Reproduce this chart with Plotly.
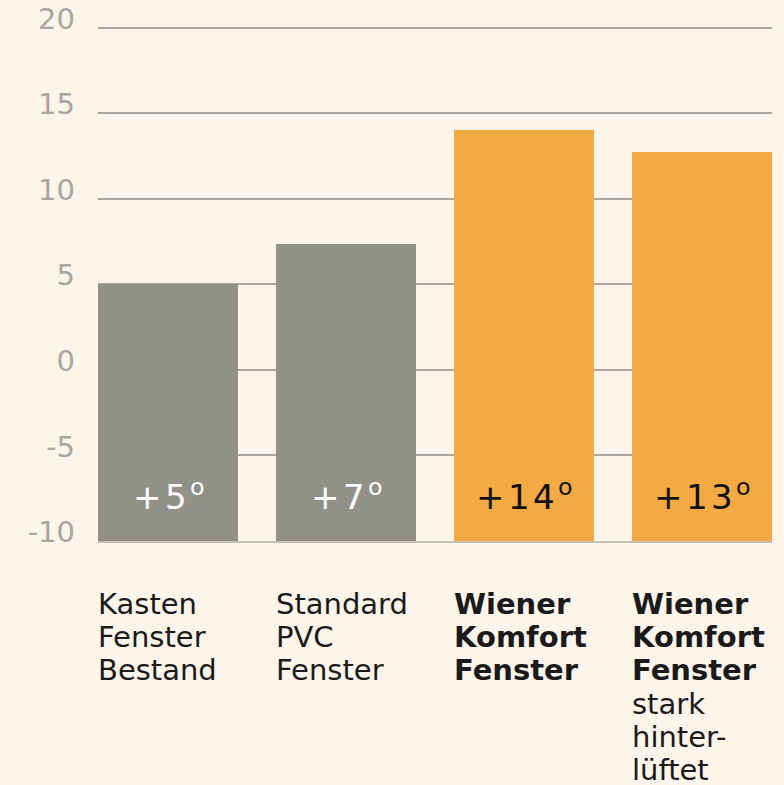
import plotly.graph_objects as go

categories = ["Kasten Fenster Bestand", "Standard PVC Fenster",
              "Wiener Komfort Fenster", "Wiener Komfort Fenster stark hinterlüftet"]
values = [5.0, 7.33, 14.0, 12.75]
bar_labels = ["+\u200a5\u200a<sup>o</sup>", "+\u200a7\u200a<sup>o</sup>",
              "+\u200a1\u200a4\u200a<sup>o</sup>", "+\u200a1\u200a3\u200a<sup>o</sup>"]
cat_lines = [
    ["Kasten", "Fenster", "Bestand"],
    ["Standard", "PVC", "Fenster"],
    ["<b>Wiener</b>", "<b>Komfort</b>", "<b>Fenster</b>"],
    ["<b>Wiener</b>", "<b>Komfort</b>", "<b>Fenster</b>", "stark", "hinter-", "lüftet"],
]
colors = ["#929187", "#929187", "#f4aa43", "#f4aa43"]
label_colors = ["#ffffff", "#ffffff", "#111111", "#111111"]
y_ticks = [-10, -5, 0, 5, 10, 15, 20]
y_ticktext = ["-10", "-5", "0", "5", "10", "15", "20"]

BASE = -10
LABEL_Y = -7.3
BAR_W = 0.79
BG = "#fdf4ea"
FONT = "DejaVu Sans"
LINE_H = 33.2
FIRST_LINE = -63

x = list(range(len(categories)))

fig = go.Figure()
fig.add_trace(go.Bar(
    x=x, y=[v - BASE for v in values], base=BASE,
    width=BAR_W, marker=dict(color=colors, line=dict(width=0)),
    hoverinfo="skip", showlegend=False,
))

for i in x:
    fig.add_annotation(x=i, y=LABEL_Y, xref="x", yref="y", text=bar_labels[i],
                       showarrow=False, yanchor="middle",
                       font=dict(family=FONT, size=34, color=label_colors[i]))
    for k, line in enumerate(cat_lines[i]):
        fig.add_annotation(x=i - BAR_W / 2, y=0, xref="x", yref="paper", text=line,
                           showarrow=False, xanchor="left", yanchor="middle", align="left",
                           yshift=FIRST_LINE - k * LINE_H, xshift=-2,
                           font=dict(family=FONT, size=29, color="#1a1a1a"))

fig.update_layout(
    width=784, height=785,
    paper_bgcolor=BG, plot_bgcolor=BG,
    margin=dict(l=98, r=12, t=25, b=244, autoexpand=False),
    bargap=0,
    xaxis=dict(range=[-BAR_W / 2, len(categories) - 1 + BAR_W / 2], showticklabels=False,
               showgrid=False, zeroline=False, showline=True, linecolor="#c4c0b6", linewidth=2,
               fixedrange=True, automargin=False),
    yaxis=dict(range=[-10, 20.15], tickvals=y_ticks, ticktext=y_ticktext,
               showgrid=True, gridcolor="#aaa79f", automargin=False,
               gridwidth=2, zeroline=False, showline=False, ticks="",
               ticklabelstandoff=22, ticklabelshift=-9,
               tickfont=dict(family=FONT, size=29, color="#a9a7a0")),
    font=dict(family=FONT),
)

fig.write_html("out.html", config={"displayModeBar": False},
               post_script="document.body.style.margin='0';document.body.style.overflow='hidden';")
